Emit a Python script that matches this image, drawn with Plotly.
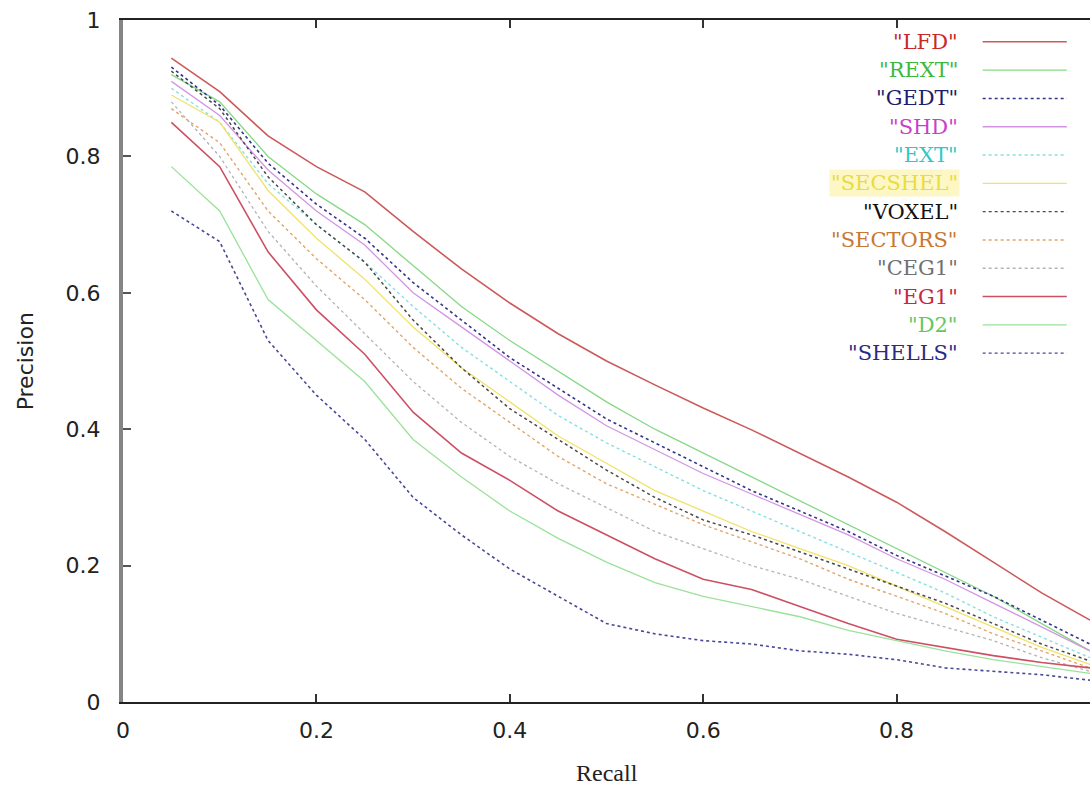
import plotly.graph_objects as go

recall = [0.05, 0.10, 0.15, 0.20, 0.25, 0.30, 0.35, 0.40, 0.45, 0.50,
          0.55, 0.60, 0.65, 0.70, 0.75, 0.80, 0.85, 0.90, 0.95, 1.00]

LFD = [0.944, 0.895, 0.830, 0.785, 0.748, 0.690, 0.635, 0.585, 0.540, 0.500,
       0.465, 0.431, 0.399, 0.365, 0.330, 0.293, 0.250, 0.205, 0.160, 0.120]
REXT = [0.920, 0.880, 0.800, 0.745, 0.700, 0.640, 0.580, 0.530, 0.485, 0.440,
        0.400, 0.365, 0.330, 0.295, 0.260, 0.225, 0.190, 0.155, 0.115, 0.075]
GEDT = [0.931, 0.875, 0.790, 0.730, 0.680, 0.615, 0.560, 0.505, 0.460, 0.415,
        0.380, 0.345, 0.310, 0.280, 0.250, 0.215, 0.185, 0.155, 0.120, 0.085]
SHD = [0.910, 0.860, 0.780, 0.720, 0.670, 0.600, 0.550, 0.500, 0.450, 0.405,
       0.370, 0.335, 0.305, 0.275, 0.245, 0.210, 0.180, 0.145, 0.110, 0.075]
EXT = [0.900, 0.850, 0.760, 0.700, 0.645, 0.580, 0.520, 0.470, 0.420, 0.380,
       0.345, 0.310, 0.280, 0.250, 0.220, 0.190, 0.160, 0.125, 0.095, 0.065]
SECSHEL = [0.890, 0.850, 0.750, 0.680, 0.620, 0.550, 0.490, 0.440, 0.390, 0.350,
           0.310, 0.280, 0.250, 0.225, 0.200, 0.170, 0.140, 0.110, 0.080, 0.055]
VOXEL = [0.925, 0.870, 0.770, 0.700, 0.645, 0.560, 0.490, 0.430, 0.385, 0.340,
         0.300, 0.267, 0.245, 0.220, 0.195, 0.170, 0.145, 0.115, 0.085, 0.060]
SECTORS = [0.870, 0.820, 0.720, 0.650, 0.590, 0.520, 0.460, 0.410, 0.360, 0.320,
           0.290, 0.260, 0.235, 0.210, 0.180, 0.155, 0.130, 0.100, 0.075, 0.050]
CEG1 = [0.880, 0.800, 0.690, 0.610, 0.540, 0.470, 0.410, 0.360, 0.320, 0.285,
        0.250, 0.225, 0.200, 0.180, 0.155, 0.130, 0.110, 0.090, 0.065, 0.045]
EG1 = [0.850, 0.785, 0.660, 0.575, 0.510, 0.425, 0.365, 0.325, 0.280, 0.245,
       0.210, 0.180, 0.165, 0.140, 0.115, 0.092, 0.080, 0.068, 0.058, 0.050]
D2 = [0.785, 0.720, 0.590, 0.530, 0.470, 0.385, 0.330, 0.280, 0.240, 0.205,
      0.175, 0.155, 0.140, 0.125, 0.105, 0.090, 0.075, 0.062, 0.052, 0.042]
SHELLS = [0.720, 0.675, 0.530, 0.450, 0.385, 0.300, 0.245, 0.195, 0.155, 0.115,
          0.100, 0.090, 0.085, 0.075, 0.070, 0.062, 0.050, 0.045, 0.040, 0.032]

tick_vals = [0, 0.2, 0.4, 0.6, 0.8, 1]
tick_text = ["0", "0.2", "0.4", "0.6", "0.8", "1"]

names = ['"LFD"', '"REXT"', '"GEDT"', '"SHD"', '"EXT"', '"SECSHEL"', '"VOXEL"',
         '"SECTORS"', '"CEG1"', '"EG1"', '"D2"', '"SHELLS"']
series = [LFD, REXT, GEDT, SHD, EXT, SECSHEL, VOXEL, SECTORS, CEG1, EG1, D2, SHELLS]
line_colors = ["#cc5a5a", "#86d886", "#343488", "#d494e4", "#86e0e0", "#f0e26a",
               "#4a4a4a", "#e2a468", "#b4b4b4", "#cc5064", "#9ae29a", "#484898"]
text_colors = ["#c82828", "#40b840", "#1c1c70", "#c840c8", "#30c8c8", "#e8dc40",
               "#111111", "#c87830", "#707070", "#c8283c", "#60c860", "#2a2a84"]
dashes = ["solid", "solid", "dot", "solid", "dot", "solid", "dot", "dot", "dot",
          "solid", "solid", "dot"]
widths = [1.6, 1.3, 1.6, 1.3, 1.4, 1.3, 1.5, 1.4, 1.3, 1.6, 1.3, 1.6]

fig = go.Figure()
for nm, ys, c, d, w in zip(names, series, line_colors, dashes, widths):
    fig.add_trace(go.Scatter(x=recall, y=ys, mode="lines", name=nm,
                             line=dict(color=c, dash=d, width=w),
                             showlegend=False))

# gnuplot-style key: right-aligned text followed by a line sample
key_top = 0.968
key_step = 0.0415
for i, (nm, tc, c, d) in enumerate(zip(names, text_colors, line_colors, dashes)):
    yk = key_top - i * key_step
    ann = dict(x=0.866, y=yk, xref="paper", yref="paper",
               text=nm, showarrow=False, xanchor="right", yanchor="middle",
               font=dict(family="DejaVu Serif", size=21, color=tc))
    if nm == '"SECSHEL"':
        ann["bgcolor"] = "#fdf7c6"
    fig.add_annotation(**ann)
    fig.add_shape(type="line", xref="paper", yref="paper",
                  x0=0.889, x1=0.976, y0=yk, y1=yk,
                  line=dict(color=c, dash=d, width=1.4))

# axis titles
fig.add_annotation(x=0.5, y=-0.104, xref="paper", yref="paper", text="Recall",
                   showarrow=False, xanchor="center", yanchor="middle",
                   font=dict(family="Liberation Serif", size=24, color="#222222"))
fig.add_annotation(x=-0.101, y=0.5, xref="paper", yref="paper", text="Precision",
                   showarrow=False, xanchor="center", yanchor="middle", textangle=-90,
                   font=dict(family="DejaVu Sans", size=22, color="#222222"))

fig.update_layout(
    width=1091, height=785,
    margin=dict(l=123, r=1, t=20, b=83),
    plot_bgcolor="white", paper_bgcolor="white",
    xaxis=dict(range=[0, 1], tickvals=tick_vals, ticktext=tick_text,
               automargin=False,
               showgrid=False, zeroline=False, showline=True,
               linecolor="#222222", linewidth=2, mirror="ticks",
               ticks="inside", ticklen=8, tickwidth=1.5, tickcolor="#333333",
               ticklabelstandoff=8,
               tickfont=dict(family="DejaVu Sans", size=22, color="#222222")),
    yaxis=dict(range=[0, 1], tickvals=tick_vals, ticktext=tick_text,
               automargin=False,
               showgrid=False, zeroline=False, showline=True,
               linecolor="#858585", linewidth=4,
               ticks="inside", ticklen=8, tickwidth=1.5, tickcolor="#555555",
               ticklabelstandoff=14,
               tickfont=dict(family="DejaVu Sans", size=22, color="#222222")),
    yaxis2=dict(range=[0, 1], overlaying="y", side="right", automargin=False,
                tickvals=tick_vals, showticklabels=False,
                showgrid=False, zeroline=False, showline=False,
                ticks="inside", ticklen=8, tickwidth=1.5, tickcolor="#333333"),
)

fig.write_html(
    "out.html",
    config={"displayModeBar": False},
    post_script="document.body.style.margin='0';document.body.style.overflow='hidden';",
)
